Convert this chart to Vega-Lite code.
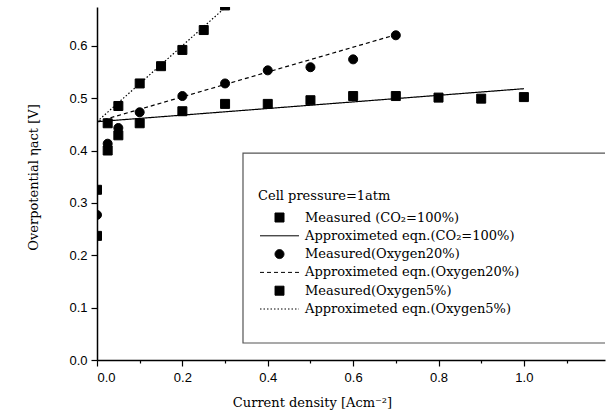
{
  "$schema": "https://vega.github.io/schema/vega-lite/v6.json",
  "width": 508,
  "height": 353,
  "autosize": {"type": "none"},
  "padding": {"left": 97, "top": 7, "right": 2, "bottom": 59},
  "background": "white",
  "config": {
    "view": {"stroke": null},
    "axis": {
      "grid": false,
      "domainColor": "black",
      "domainWidth": 1.5,
      "tickColor": "black",
      "tickWidth": 1.2,
      "labelFont": "Liberation Sans",
      "labelFontSize": 13,
      "labelColor": "black",
      "titleFont": "DejaVu Serif",
      "titleFontSize": 13,
      "titleFontWeight": "normal",
      "titleColor": "black"
    },
    "legend": {
      "titleFont": "DejaVu Serif",
      "titleFontSize": 13,
      "titleFontWeight": "normal",
      "titleColor": "black",
      "labelFont": "DejaVu Serif",
      "labelFontSize": 13,
      "labelColor": "black",
      "labelLimit": 400
    }
  },
  "datasets": {
    "measured": [
      {"series": "Measured (CO₂=100%)", "x": 0.0, "y": 0.237},
      {"series": "Measured (CO₂=100%)", "x": 0.025, "y": 0.400},
      {"series": "Measured (CO₂=100%)", "x": 0.05, "y": 0.429},
      {"series": "Measured (CO₂=100%)", "x": 0.1, "y": 0.452},
      {"series": "Measured (CO₂=100%)", "x": 0.2, "y": 0.475},
      {"series": "Measured (CO₂=100%)", "x": 0.3, "y": 0.489},
      {"series": "Measured (CO₂=100%)", "x": 0.4, "y": 0.489},
      {"series": "Measured (CO₂=100%)", "x": 0.5, "y": 0.496},
      {"series": "Measured (CO₂=100%)", "x": 0.6, "y": 0.504},
      {"series": "Measured (CO₂=100%)", "x": 0.7, "y": 0.504},
      {"series": "Measured (CO₂=100%)", "x": 0.8, "y": 0.501},
      {"series": "Measured (CO₂=100%)", "x": 0.9, "y": 0.499},
      {"series": "Measured (CO₂=100%)", "x": 1.0, "y": 0.502},
      {"series": "Measured(Oxygen20%)", "x": 0.0, "y": 0.277},
      {"series": "Measured(Oxygen20%)", "x": 0.025, "y": 0.413},
      {"series": "Measured(Oxygen20%)", "x": 0.05, "y": 0.443},
      {"series": "Measured(Oxygen20%)", "x": 0.1, "y": 0.473},
      {"series": "Measured(Oxygen20%)", "x": 0.2, "y": 0.504},
      {"series": "Measured(Oxygen20%)", "x": 0.3, "y": 0.528},
      {"series": "Measured(Oxygen20%)", "x": 0.4, "y": 0.553},
      {"series": "Measured(Oxygen20%)", "x": 0.5, "y": 0.559},
      {"series": "Measured(Oxygen20%)", "x": 0.6, "y": 0.574},
      {"series": "Measured(Oxygen20%)", "x": 0.7, "y": 0.620},
      {"series": "Measured(Oxygen5%)", "x": 0.0, "y": 0.325},
      {"series": "Measured(Oxygen5%)", "x": 0.025, "y": 0.452},
      {"series": "Measured(Oxygen5%)", "x": 0.05, "y": 0.485},
      {"series": "Measured(Oxygen5%)", "x": 0.1, "y": 0.528},
      {"series": "Measured(Oxygen5%)", "x": 0.15, "y": 0.561},
      {"series": "Measured(Oxygen5%)", "x": 0.2, "y": 0.592},
      {"series": "Measured(Oxygen5%)", "x": 0.25, "y": 0.630},
      {"series": "Measured(Oxygen5%)", "x": 0.3, "y": 0.677}
    ],
    "fitted": [
      {"series": "Approximeted eqn.(CO₂=100%)", "x": 0.0, "y": 0.455},
      {"series": "Approximeted eqn.(CO₂=100%)", "x": 1.0, "y": 0.518},
      {"series": "Approximeted eqn.(Oxygen20%)", "x": 0.0, "y": 0.455},
      {"series": "Approximeted eqn.(Oxygen20%)", "x": 0.7, "y": 0.621},
      {"series": "Approximeted eqn.(Oxygen5%)", "x": 0.0, "y": 0.455},
      {"series": "Approximeted eqn.(Oxygen5%)", "x": 0.31, "y": 0.68}
    ]
  },
  "layer": [
    {
      "data": {"values": [{}]},
      "mark": {"type": "rect", "fillOpacity": 0, "stroke": "#555", "strokeWidth": 1.2, "clip": true},
      "encoding": {
        "x": {"datum": 0.342, "type": "quantitative"},
        "x2": {"datum": 1.5},
        "y": {"datum": 0.395, "type": "quantitative"},
        "y2": {"datum": 0.0325}
      }
    },
    {
      "data": {"name": "fitted"},
      "mark": {"type": "line", "color": "black", "strokeWidth": 1.2, "clip": true},
      "encoding": {
        "x": {
          "field": "x", "type": "quantitative",
          "scale": {"domain": [0, 1.19], "nice": false, "zero": false},
          "axis": {
            "title": "Current density [Acm⁻²]",
            "values": [0, 0.1, 0.2, 0.3, 0.4, 0.5, 0.6, 0.7, 0.8, 0.9, 1.0, 1.1],
            "labelExpr": "round(datum.value*10) % 2 == 0 ? format(datum.value, '.1f') : ''",
            "tickSize": {"condition": {"test": "round(datum.value*10) % 2 == 1", "value": 3}, "value": 6},
            "labelPadding": 5,
            "titlePadding": 12,
            "titleX": 215
          }
        },
        "y": {
          "field": "y", "type": "quantitative",
          "scale": {"domain": [0, 0.674], "nice": false, "zero": false},
          "axis": {
            "title": "Overpotential ηact  [V]",
            "values": [0, 0.05, 0.1, 0.15, 0.2, 0.25, 0.3, 0.35, 0.4, 0.45, 0.5, 0.55, 0.6, 0.65],
            "labelExpr": "round(datum.value*20) % 2 == 0 ? format(datum.value, '.1f') : ''",
            "tickSize": {"condition": {"test": "round(datum.value*20) % 2 == 1", "value": 3}, "value": 6},
            "labelPadding": 4,
            "titleX": -64,
            "titleY": 170,
            "titleBaseline": "middle"
          }
        },
        "strokeDash": {
          "field": "series", "type": "nominal",
          "scale": {
            "domain": ["Measured (CO₂=100%)", "Approximeted eqn.(CO₂=100%)", "Measured(Oxygen20%)", "Approximeted eqn.(Oxygen20%)", "Measured(Oxygen5%)", "Approximeted eqn.(Oxygen5%)"],
            "range": [[1, 0], [1, 0], [1, 0], [4, 3], [1, 0], [1.5, 2]]
          },
          "legend": {"title": "Cell pressure=1atm"}
        }
      }
    },
    {
      "data": {"name": "measured"},
      "mark": {"type": "point", "filled": true, "fill": "black", "stroke": "black", "strokeWidth": 1, "opacity": 1, "size": 81, "clip": true},
      "encoding": {
        "x": {"field": "x", "type": "quantitative"},
        "y": {"field": "y", "type": "quantitative"},
        "shape": {
          "field": "series", "type": "nominal",
          "scale": {
            "domain": ["Measured (CO₂=100%)", "Approximeted eqn.(CO₂=100%)", "Measured(Oxygen20%)", "Approximeted eqn.(Oxygen20%)", "Measured(Oxygen5%)", "Approximeted eqn.(Oxygen5%)"],
            "range": ["square", "M-4.333,0H4.333", "circle", "M-4.333,0H4.333", "square", "M-4.333,0H4.333"]
          },
          "legend": {
            "title": "Cell pressure=1atm",
            "orient": "none",
            "legendX": 161,
            "legendY": 183,
            "padding": 0,
            "titlePadding": 8,
            "labelOffset": 19,
            "rowPadding": 4.3,
            "symbolOffset": 15,
            "symbolSize": 81,
            "symbolStrokeWidth": 1,
            "symbolStrokeColor": "black",
            "symbolFillColor": "black"
          }
        }
      }
    }
  ]
}
